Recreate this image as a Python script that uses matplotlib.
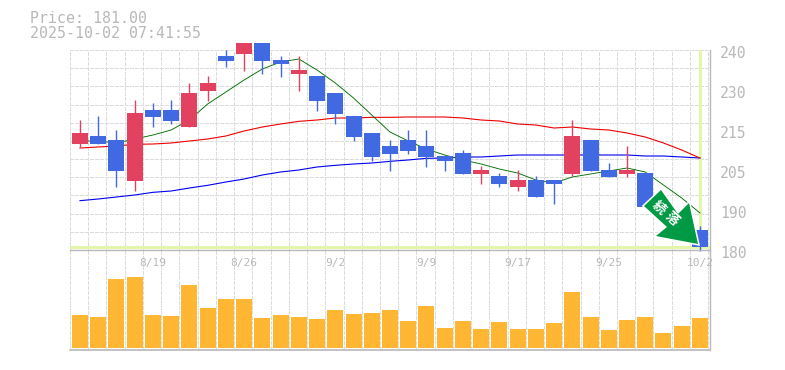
import matplotlib
matplotlib.use('Agg')
import matplotlib.pyplot as plt
import numpy as np
from matplotlib.patches import Polygon

W, H = 785, 370
GRAY = '#b8b8b8'

# Данные
dates = {4: '8/19', 9: '8/26', 14: '9/2', 19: '9/9', 24: '9/17', 29: '9/25', 34: '10/2'}
opens = [211.8, 214.2, 213.0, 200.7, 222.0, 222.0, 216.9, 227.7, 238.2, 238.8, 242.1, 237.0,
         232.8, 232.2, 227.1, 220.2, 215.1, 211.2, 213.0, 211.2, 208.2, 209.1, 202.8, 202.2,
         198.9, 201.0, 201.0, 202.8, 213.0, 204.0, 202.8, 203.1, 193.5, 190.5, 186.0]
closes = [215.1, 211.8, 203.7, 221.1, 219.9, 218.7, 227.1, 230.1, 236.7, 242.1, 236.7, 235.8,
          234.0, 224.7, 220.8, 213.9, 207.9, 208.8, 209.7, 207.9, 206.7, 202.8, 204.0, 199.8,
          201.0, 195.9, 199.8, 214.2, 203.7, 201.9, 204.0, 192.9, 190.8, 184.2, 181.0]
highs = [219.0, 220.2, 216.0, 225.0, 224.1, 225.0, 230.1, 232.2, 240.0, 242.1, 242.1, 238.2,
         238.2, 232.2, 227.1, 220.2, 215.1, 213.0, 216.0, 216.0, 208.2, 210.0, 205.2, 203.1,
         204.0, 202.2, 201.0, 219.0, 213.0, 206.1, 211.2, 203.1, 193.5, 190.5, 187.2]
lows = [210.9, 211.8, 198.9, 197.7, 216.9, 217.8, 216.9, 224.7, 234.9, 233.7, 232.8, 231.9,
        227.7, 221.7, 217.8, 212.7, 206.7, 203.7, 208.8, 204.9, 203.7, 202.8, 199.8, 198.9,
        197.7, 195.9, 193.8, 202.2, 203.7, 201.9, 201.9, 192.9, 190.8, 184.2, 179.7]
ma_green = [212.7, 212.7, 212.1, 213.3, 214.5, 216.0, 219.0, 223.8, 227.4, 231.0, 234.3, 236.4,
            237.3, 234.0, 230.1, 225.6, 220.5, 215.4, 212.7, 210.3, 208.5, 207.0, 205.8, 204.3,
            203.1, 201.0, 200.1, 201.9, 202.8, 203.7, 204.6, 203.4, 199.5, 195.6, 191.1]
ma_red = [210.6, 210.9, 211.2, 211.7, 211.8, 212.1, 212.7, 213.3, 214.2, 215.7, 216.9, 217.8,
          218.6, 219.0, 219.6, 219.6, 219.8, 219.8, 219.9, 219.9, 219.9, 219.6, 219.0, 218.7,
          217.8, 217.5, 216.6, 216.9, 216.3, 216.0, 215.1, 213.9, 212.1, 210.0, 207.6]
ma_blue = [194.8, 195.3, 195.9, 196.5, 197.3, 197.7, 198.6, 199.4, 200.4, 201.3, 202.5, 203.4,
           204.0, 204.9, 205.4, 205.8, 206.1, 206.6, 207.0, 207.5, 207.6, 207.9, 207.9, 208.2,
           208.5, 208.5, 208.5, 208.5, 208.5, 208.5, 208.5, 208.2, 208.2, 207.9, 207.6]
volumes = [33, 31, 69, 71, 33, 32, 63, 40, 49, 49, 30, 33, 31, 29, 38, 34, 35, 38,
           27, 42, 20, 27, 19, 26, 19, 19, 25, 56, 31, 18, 28, 31, 15, 22, 30]
price_ticks = [240, 228, 216, 204, 192, 180]
price_labels = ['240', '230', '215', '205', '190', '180']
last_price = 181.0

fig = plt.figure(figsize=(W / 100, H / 100), dpi=100)


def px_axes(x0, x1, y_top, y_bottom):
    return fig.add_axes([x0 / W, 1 - y_bottom / H, (x1 - x0) / W, (y_bottom - y_top) / H])


ax = px_axes(70, 710, 50, 250)
axv = px_axes(70, 710, 250, 349)
xs = np.arange(len(closes))
step = 640 / 35.1
xlim = (-10 / step, 630 / step)
grid_style = dict(color='#dcdcdc', lw=0.72, ls=(0, (4, 2)), zorder=0, antialiased=False)

for a in (ax, axv):
    a.set_xlim(xlim)
    a.patch.set_alpha(0)
    for s in a.spines.values():
        s.set_visible(False)
    a.set_xticks(np.arange(36) - 10 / step)
    a.tick_params(length=0, labelbottom=False, labelleft=False)
    a.grid(True, axis='x', **grid_style)
    a.set_axisbelow(True)

# Цены
ax.set_ylim(180, 240)
ax.set_yticks(np.linspace(180, 240, 12))
ax.grid(True, axis='y', **grid_style)

ax.axhline(last_price, color='#e4f6aa', lw=2.2, zorder=1)
ax.axvline(xs[-1], color='#e4f6aa', lw=2.2, zorder=1)

ax.plot(xs, ma_blue, color='#0000ee', lw=0.8, zorder=2, clip_on=False)
ax.plot(xs, ma_red, color='#ee0000', lw=0.8, zorder=2, clip_on=False)
ax.plot(xs, ma_green, color='#006e00', lw=0.65, zorder=2, clip_on=False)

for i in xs:
    col = '#e2425f' if closes[i] >= opens[i] else '#4169e1'
    ax.plot([i, i], [lows[i], highs[i]], color=col, lw=1.0, zorder=3,
            clip_on=False, solid_capstyle='butt')
    ax.bar(i, abs(closes[i] - opens[i]), bottom=min(opens[i], closes[i]), width=16 / step,
           color=col, antialiased=False, zorder=4, clip_on=False)

# Объём
axv.bar(xs, volumes, width=16 / step, color='#ffb733', antialiased=False, zorder=3)
axv.set_ylim(-1, 98)

# Рамка
fig.add_artist(plt.Line2D([70 / W, 710 / W], [1 - 250 / H] * 2, color=GRAY, lw=1.0, zorder=5))
fig.add_artist(plt.Line2D([70 / W, 710 / W], [1 - 349.5 / H] * 2, color=GRAY, lw=1.2, zorder=5))
fig.add_artist(plt.Line2D([710 / W] * 2, [1 - 50 / H, 1 - 350 / H], color=GRAY, lw=1.0, zorder=5))

# Подписи
for p, lab in zip(price_ticks, price_labels):
    ax.annotate(lab, (1, p), xycoords=('axes fraction', 'data'), xytext=(10 * 0.72, -8.5 * 0.72),
                textcoords='offset points', color=GRAY, family='DejaVu Sans Mono',
                fontsize=10.6, va='baseline', ha='left', annotation_clip=False)
for i, lab in dates.items():
    axv.annotate(lab, (i, 1), xycoords=('data', 'axes fraction'), xytext=(0, -16 * 0.72),
                 textcoords='offset points', color=GRAY, family='DejaVu Sans Mono',
                 fontsize=8, ha='center', va='baseline', annotation_clip=False)

fig.text(29.5 / W, 1 - 23 / H, 'Price: %.2f' % last_price, color=GRAY,
         family='DejaVu Sans Mono', fontsize=10.7, va='baseline')
fig.text(29.5 / W, 1 - 38 / H, '2025-10-02 07:41:55', color=GRAY,
         family='DejaVu Sans Mono', fontsize=10.7, va='baseline')

# Стрелка
arrow_px = [(661, 190), (644, 206), (667, 227), (656, 236), (698, 244), (689, 203), (678, 214)]
arrow_fig = [(x / W, 1 - y / H) for x, y in arrow_px]
fig.add_artist(Polygon(arrow_fig, closed=True, transform=fig.transFigure, facecolor='white',
                       edgecolor='white', lw=2.2, joinstyle='miter', zorder=8))
fig.add_artist(Polygon(arrow_fig, closed=True, transform=fig.transFigure, facecolor='#009944',
                       edgecolor='none', zorder=8.5))
for ch, (tx, ty) in zip('続落', [(659, 208), (672, 219)]):
    fig.text(tx / W, 1 - ty / H, ch, color='white', family='Noto Sans CJK JP', fontweight='bold',
             fontsize=9.5, rotation=-42, ha='center', va='center', zorder=9)

fig.savefig('out.png', dpi=100)
